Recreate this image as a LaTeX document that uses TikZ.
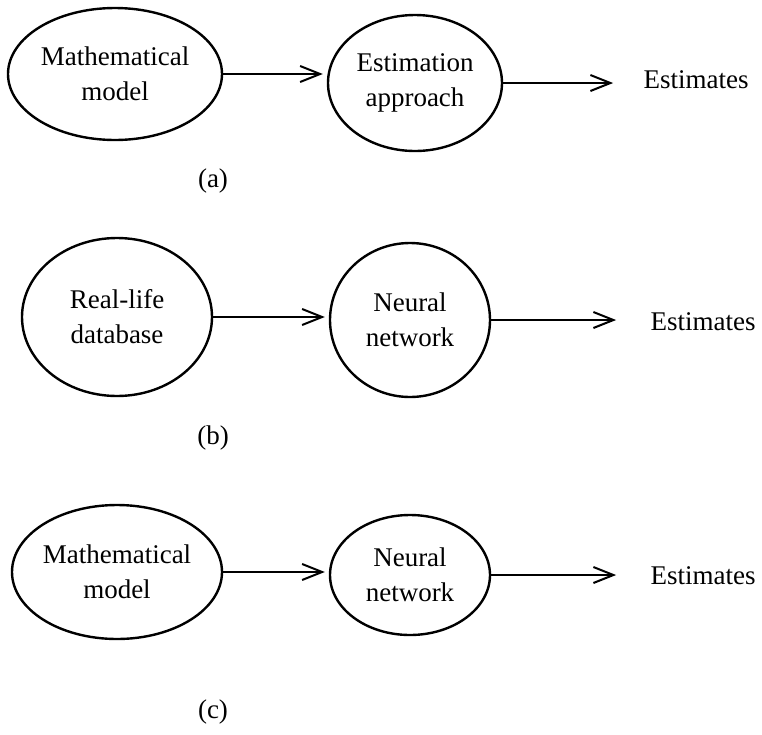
\documentclass[tikz,border=0pt]{standalone}
\usepackage{fontspec}
\setmainfont{Liberation Serif}
\usetikzlibrary{positioning, shapes.geometric, arrows.meta}

\tikzset{
  blob/.style={draw, ellipse, line width=1.2pt, align=center, inner sep=0pt},
  outtext/.style={inner sep=0pt},
  link/.style={->, line width=1pt, shorten >=2pt}
}

\begin{document}
\begin{tikzpicture}[x=0.5pt, y=-0.5pt,
  >={Straight Barb[length=10pt, width=8pt, line width=1pt]},
  every node/.style={font=\fontsize{13.5}{17.5}\selectfont}]
  \useasboundingbox (0,0) rectangle (762,735);

  % (a)
  \node[blob, minimum width=107pt, minimum height=66pt] (model a) at (115,74)
  {Mathematical\\model};
  \node[blob, minimum width=87pt, minimum height=68pt]  (estim a) at (415,83)
  {Estimation\\approach};
  \node[outtext] (out a) at (696,80) {Estimates};
  \node (label a) at (213,181) {(a)};

  % (b)
  \node[blob, minimum width=95pt, minimum height=79pt]  (data b) at (117,317)
  {Real-life\\database};
  \node[blob, minimum width=80pt, minimum height=77pt]  (net b) at (410,320)
  {Neural\\network};
  \node[outtext] (out b) at (703,322) {Estimates};
  \node (label b) at (213,438) {(b)};

  % (c)
  \node[blob, minimum width=105pt, minimum height=67pt] (model c) at (117,572)
  {Mathematical\\model};
  \node[blob, minimum width=80pt, minimum height=60pt]  (net c) at (410,575)
  {Neural\\network};
  \node[outtext] (out c) at (703,576) {Estimates};
  \node (label c) at (213,712) {(c)};

  \draw[link] (model a.east) -- (model a.east -| estim a.west);
  \draw[link, shorten >=15pt] (estim a.east) -- (estim a.east -| out a.west);
  \draw[link] (data b.east) -- (data b.east -| net b.west);
  \draw[link, shorten >=17pt] (net b.east) -- (net b.east -| out b.west);
  \draw[link] (model c.east) -- (model c.east -| net c.west);
  \draw[link, shorten >=17pt] (net c.east) -- (net c.east -| out c.west);
\end{tikzpicture}
\end{document}
